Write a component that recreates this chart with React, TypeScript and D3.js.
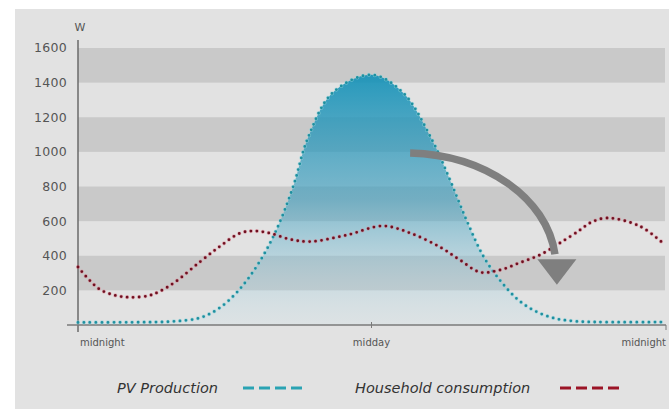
import React from "react";
import * as d3 from "d3";

const yTicks = [200, 400, 600, 800, 1000, 1200, 1400, 1600];
const bands: [number, number][] = [[200, 400], [600, 800], [1000, 1200], [1400, 1600]];
const xTickHours = [0, 12, 24];
const xTickLabels = ["midnight", "midday", "midnight"];

const pvHours = [0, 2.5, 3.8, 5.0, 5.8, 6.6, 7.4, 8.1, 8.8, 9.4, 10.4, 12.0, 13.3, 14.47, 15.2, 15.9, 16.6, 17.3, 18.0, 18.7, 19.5, 20.3, 21.2, 24];
const pvValues = [15, 16, 20, 42, 100, 205, 360, 545, 800, 1080, 1340, 1445, 1340, 1070, 840, 600, 390, 250, 145, 80, 38, 22, 17, 17];

const houseHours = [0, 0.45, 0.9, 1.5, 2.13, 2.9, 3.35, 3.97, 4.99, 5.81, 6.62, 7.2, 7.85, 8.67, 9.49, 11.0, 12.47, 13.6, 14.8, 15.62, 16.44, 17.26, 18.07, 18.89, 19.71, 20.53, 20.94, 21.63, 22.98, 24];
const houseValues = [335, 262, 205, 172, 160, 170, 195, 248, 365, 455, 530, 543, 530, 495, 482, 520, 572, 530, 450, 375, 305, 318, 360, 405, 474, 549, 590, 618, 570, 462];

const legendItems = ["PV Production", "Household consumption"];

const W = 669, H = 409;
const x0 = 78, x1 = 665, yBase = 325, yTop = 48;

export default function App() {
  const x = d3.scaleLinear().domain([0, 24]).range([x0, x1]);
  const y = d3.scaleLinear().domain([0, 1600]).range([yBase, yTop]);

  const pvPts = pvHours.map((h, i) => [h, pvValues[i]] as [number, number]);
  const housePts = houseHours.map((h, i) => [h, houseValues[i]] as [number, number]);

  const curve = d3.curveCatmullRom.alpha(0.5);
  const line = d3.line<[number, number]>().x(d => x(d[0])).y(d => y(d[1])).curve(curve);
  const area = d3.area<[number, number]>().x(d => x(d[0])).y0(y(0)).y1(d => y(d[1])).curve(curve);

  const font = "'DejaVu Sans', sans-serif";

  const aStart: [number, number] = [13.58, 994];
  const aEnd: [number, number] = [19.5, 380];
  const tip: [number, number] = [19.58, 232];
  const ax0 = x(aStart[0]), ay0 = y(aStart[1]);
  const ax1 = x(aEnd[0]), ay1 = y(aEnd[1]);
  const tx = x(tip[0]), ty = y(tip[1]);
  const arrowPath = `M${ax0},${ay0} C${ax0 + 75},${ay0 + 2} ${ax1 - 8},${ay0 + 45} ${ax1},${ay1 - 5}`;
  const headPath = `M${tx - 19.5},${ay1} L${tx + 19.5},${ay1} L${tx},${ty} Z`;

  return (
    <svg width={W} height={H} style={{ position: "absolute", left: 0, top: 0 }}>
      <defs>
        <linearGradient id="pvfill" x1="0" y1={y(1450)} x2="0" y2={y(0)} gradientUnits="userSpaceOnUse">
          <stop offset="0" stopColor="#1592b8" stopOpacity="0.92" />
          <stop offset="0.5" stopColor="#3a9cbd" stopOpacity="0.6" />
          <stop offset="1" stopColor="#bfe2ee" stopOpacity="0.15" />
        </linearGradient>
      </defs>
      <rect x={0} y={0} width={W} height={H} fill="#ffffff" />
      <rect x={15} y={9} width={W - 15} height={H - 9} fill="#e2e2e2" />
      {bands.map(([a, b], i) => (
        <rect key={i} x={x0} y={y(b)} width={x1 - x0} height={y(a) - y(b)} fill="#c9c9c9" />
      ))}
      <path d={area(pvPts) || ""} fill="url(#pvfill)" />
      <line x1={x0} x2={x0} y1={40} y2={332} stroke="#6a6a6a" strokeWidth={1.5} />
      <line x1={67} x2={x1 + 1} y1={yBase} y2={yBase} stroke="#7a7a7a" strokeWidth={1.3} />
      <line x1={x(12)} x2={x(12)} y1={yBase - 3} y2={yBase + 3} stroke="#7a7a7a" strokeWidth={1} />
      <line x1={x1 + 1} x2={x1 + 1} y1={yBase} y2={yBase + 5} stroke="#7a7a7a" strokeWidth={1} />
      {yTicks.map(t => (
        <text key={t} x={67} y={y(t)} dy="0.35em" textAnchor="end" fontFamily={font} fontSize={12.5} letterSpacing={0.3} fill="#555">{t}</text>
      ))}
      <text x={80} y={31} textAnchor="middle" fontFamily={font} fontSize={11} fill="#555">W</text>
      {xTickHours.map((h, i) => (
        <text key={i} x={x(h) + (i === 0 ? 2 : i === 2 ? 1 : 0)} y={346}
          textAnchor={i === 0 ? "start" : i === 2 ? "end" : "middle"}
          fontFamily={font} fontSize={10} fill="#555">{xTickLabels[i]}</text>
      ))}
      <path d={line(pvPts) || ""} fill="none" stroke="#8fd3dc" strokeWidth={4.2} strokeDasharray="0 6" strokeLinecap="round" opacity={0.6} />
      <path d={line(pvPts) || ""} fill="none" stroke="#1f8f9f" strokeWidth={2.8} strokeDasharray="0 6" strokeLinecap="round" />
      <path d={line(housePts) || ""} fill="none" stroke="#e07a8a" strokeWidth={4.2} strokeDasharray="0 6" strokeLinecap="round" opacity={0.5} />
      <path d={line(housePts) || ""} fill="none" stroke="#6e1020" strokeWidth={2.8} strokeDasharray="0 6" strokeLinecap="round" />
      <path d={arrowPath} fill="none" stroke="#7f7f7f" strokeWidth={7.5} />
      <path d={headPath} fill="#7f7f7f" />
      <text x={117} y={393} fontFamily={font} fontStyle="italic" fontSize={14.5} fill="#333">{legendItems[0]}</text>
      <line x1={243} x2={306} y1={388} y2={388} stroke="#2aa3b3" strokeWidth={3} strokeDasharray="11 5" />
      <text x={355} y={393} fontFamily={font} fontStyle="italic" fontSize={14.5} fill="#333">{legendItems[1]}</text>
      <line x1={560} x2={622} y1={388} y2={388} stroke="#9b1426" strokeWidth={3} strokeDasharray="11 5" />
    </svg>
  );
}
